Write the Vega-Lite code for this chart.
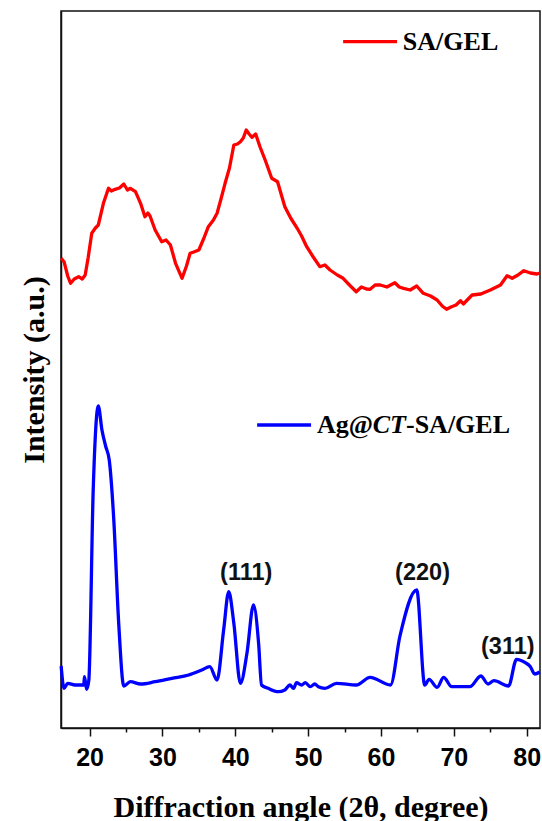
{
  "$schema": "https://vega.github.io/schema/vega-lite/v6.json",
  "width": 479,
  "height": 717,
  "autosize": {"type": "none"},
  "padding": {"left": 61, "top": 11, "right": 2, "bottom": 93},
  "background": "white",
  "config": {
    "view": {"stroke": "#111", "strokeWidth": 1.5},
    "axis": {"grid": false, "domainColor": "#111", "domainWidth": 1.5, "tickColor": "#111", "tickWidth": 1.5},
    "axisY": {
      "title": "Intensity (a.u.)",
      "ticks": false,
      "labels": false,
      "titleFont": "Liberation Serif",
      "titleFontWeight": "bold",
      "titleFontSize": 30,
      "titleColor": "#000",
      "titlePadding": 12
    }
  },
  "datasets": {
    "xrd": [
      {"series": "SA/GEL", "x": 16.1, "y": 469.7},
      {"series": "SA/GEL", "x": 16.5, "y": 466.3},
      {"series": "SA/GEL", "x": 17.0, "y": 452},
      {"series": "SA/GEL", "x": 17.4, "y": 444.7},
      {"series": "SA/GEL", "x": 17.9, "y": 449},
      {"series": "SA/GEL", "x": 18.5, "y": 451.3},
      {"series": "SA/GEL", "x": 19.0, "y": 449},
      {"series": "SA/GEL", "x": 19.4, "y": 453},
      {"series": "SA/GEL", "x": 19.8, "y": 470},
      {"series": "SA/GEL", "x": 20.3, "y": 494.7},
      {"series": "SA/GEL", "x": 20.8, "y": 500},
      {"series": "SA/GEL", "x": 21.2, "y": 503},
      {"series": "SA/GEL", "x": 21.9, "y": 524.7},
      {"series": "SA/GEL", "x": 22.6, "y": 539.7},
      {"series": "SA/GEL", "x": 23.0, "y": 537},
      {"series": "SA/GEL", "x": 23.5, "y": 538.7},
      {"series": "SA/GEL", "x": 24.1, "y": 540},
      {"series": "SA/GEL", "x": 24.7, "y": 544},
      {"series": "SA/GEL", "x": 25.2, "y": 538},
      {"series": "SA/GEL", "x": 25.6, "y": 539.7},
      {"series": "SA/GEL", "x": 26.3, "y": 536.3},
      {"series": "SA/GEL", "x": 27.0, "y": 524.7},
      {"series": "SA/GEL", "x": 27.6, "y": 511.3},
      {"series": "SA/GEL", "x": 28.0, "y": 515},
      {"series": "SA/GEL", "x": 28.3, "y": 512},
      {"series": "SA/GEL", "x": 29.0, "y": 498},
      {"series": "SA/GEL", "x": 29.9, "y": 486.3},
      {"series": "SA/GEL", "x": 30.5, "y": 488},
      {"series": "SA/GEL", "x": 31.1, "y": 483},
      {"series": "SA/GEL", "x": 31.8, "y": 464.7},
      {"series": "SA/GEL", "x": 32.7, "y": 449.7},
      {"series": "SA/GEL", "x": 33.3, "y": 462},
      {"series": "SA/GEL", "x": 33.8, "y": 474.7},
      {"series": "SA/GEL", "x": 34.3, "y": 476},
      {"series": "SA/GEL", "x": 35.0, "y": 478},
      {"series": "SA/GEL", "x": 35.7, "y": 490},
      {"series": "SA/GEL", "x": 36.3, "y": 501.3},
      {"series": "SA/GEL", "x": 37.0, "y": 508},
      {"series": "SA/GEL", "x": 37.5, "y": 514.7},
      {"series": "SA/GEL", "x": 38.0, "y": 528},
      {"series": "SA/GEL", "x": 38.6, "y": 544.7},
      {"series": "SA/GEL", "x": 39.2, "y": 560},
      {"series": "SA/GEL", "x": 39.8, "y": 583},
      {"series": "SA/GEL", "x": 40.3, "y": 584},
      {"series": "SA/GEL", "x": 40.7, "y": 586.3},
      {"series": "SA/GEL", "x": 41.1, "y": 590},
      {"series": "SA/GEL", "x": 41.5, "y": 598},
      {"series": "SA/GEL", "x": 41.9, "y": 594},
      {"series": "SA/GEL", "x": 42.3, "y": 590.7},
      {"series": "SA/GEL", "x": 42.8, "y": 594},
      {"series": "SA/GEL", "x": 43.4, "y": 581},
      {"series": "SA/GEL", "x": 44.1, "y": 568},
      {"series": "SA/GEL", "x": 45.0, "y": 549.7},
      {"series": "SA/GEL", "x": 45.8, "y": 546.3},
      {"series": "SA/GEL", "x": 46.8, "y": 521.3},
      {"series": "SA/GEL", "x": 47.6, "y": 510},
      {"series": "SA/GEL", "x": 48.5, "y": 499.7},
      {"series": "SA/GEL", "x": 49.1, "y": 492},
      {"series": "SA/GEL", "x": 49.8, "y": 481.3},
      {"series": "SA/GEL", "x": 50.7, "y": 471},
      {"series": "SA/GEL", "x": 51.6, "y": 461.3},
      {"series": "SA/GEL", "x": 52.3, "y": 463},
      {"series": "SA/GEL", "x": 53.0, "y": 458},
      {"series": "SA/GEL", "x": 54.0, "y": 453},
      {"series": "SA/GEL", "x": 54.8, "y": 449.7},
      {"series": "SA/GEL", "x": 55.8, "y": 442},
      {"series": "SA/GEL", "x": 56.6, "y": 436.3},
      {"series": "SA/GEL", "x": 57.3, "y": 441},
      {"series": "SA/GEL", "x": 58.0, "y": 439},
      {"series": "SA/GEL", "x": 58.5, "y": 438.7},
      {"series": "SA/GEL", "x": 59.2, "y": 443},
      {"series": "SA/GEL", "x": 59.9, "y": 443},
      {"series": "SA/GEL", "x": 60.8, "y": 441},
      {"series": "SA/GEL", "x": 61.9, "y": 445.3},
      {"series": "SA/GEL", "x": 62.5, "y": 441},
      {"series": "SA/GEL", "x": 63.1, "y": 439.7},
      {"series": "SA/GEL", "x": 64.0, "y": 438},
      {"series": "SA/GEL", "x": 64.9, "y": 442},
      {"series": "SA/GEL", "x": 65.8, "y": 434.7},
      {"series": "SA/GEL", "x": 66.8, "y": 432},
      {"series": "SA/GEL", "x": 67.7, "y": 428},
      {"series": "SA/GEL", "x": 68.4, "y": 422},
      {"series": "SA/GEL", "x": 69.0, "y": 418.7},
      {"series": "SA/GEL", "x": 69.6, "y": 421},
      {"series": "SA/GEL", "x": 70.3, "y": 423},
      {"series": "SA/GEL", "x": 70.9, "y": 427.3},
      {"series": "SA/GEL", "x": 71.3, "y": 424},
      {"series": "SA/GEL", "x": 72.5, "y": 433},
      {"series": "SA/GEL", "x": 73.7, "y": 434},
      {"series": "SA/GEL", "x": 75.0, "y": 438},
      {"series": "SA/GEL", "x": 76.4, "y": 443},
      {"series": "SA/GEL", "x": 77.3, "y": 452.3},
      {"series": "SA/GEL", "x": 78.0, "y": 449.7},
      {"series": "SA/GEL", "x": 78.8, "y": 453},
      {"series": "SA/GEL", "x": 79.6, "y": 457.3},
      {"series": "SA/GEL", "x": 80.5, "y": 455},
      {"series": "SA/GEL", "x": 81.4, "y": 454},
      {"series": "SA/GEL", "x": 81.8, "y": 455},
      {"series": "Ag", "x": 16.1, "y": 62},
      {"series": "Ag", "x": 16.5, "y": 39.7},
      {"series": "Ag", "x": 17.0, "y": 44.7},
      {"series": "Ag", "x": 18.0, "y": 43},
      {"series": "Ag", "x": 19.2, "y": 43},
      {"series": "Ag", "x": 19.3, "y": 51.3},
      {"series": "Ag", "x": 19.6, "y": 38.7},
      {"series": "Ag", "x": 19.9, "y": 48},
      {"series": "Ag", "x": 20.5, "y": 238},
      {"series": "Ag", "x": 21.2, "y": 322},
      {"series": "Ag", "x": 21.7, "y": 298},
      {"series": "Ag", "x": 22.2, "y": 282},
      {"series": "Ag", "x": 22.7, "y": 268},
      {"series": "Ag", "x": 23.3, "y": 211.3},
      {"series": "Ag", "x": 24.0, "y": 104.7},
      {"series": "Ag", "x": 24.7, "y": 42},
      {"series": "Ag", "x": 25.6, "y": 46.3},
      {"series": "Ag", "x": 27.0, "y": 44},
      {"series": "Ag", "x": 29.0, "y": 46.3},
      {"series": "Ag", "x": 31.3, "y": 49.7},
      {"series": "Ag", "x": 33.6, "y": 53},
      {"series": "Ag", "x": 35.4, "y": 58},
      {"series": "Ag", "x": 36.5, "y": 61.3},
      {"series": "Ag", "x": 37.5, "y": 48},
      {"series": "Ag", "x": 38.4, "y": 98},
      {"series": "Ag", "x": 39.1, "y": 136.3},
      {"series": "Ag", "x": 39.8, "y": 104.7},
      {"series": "Ag", "x": 40.7, "y": 44.7},
      {"series": "Ag", "x": 41.6, "y": 74.7},
      {"series": "Ag", "x": 42.5, "y": 123},
      {"series": "Ag", "x": 43.2, "y": 84.7},
      {"series": "Ag", "x": 43.6, "y": 43},
      {"series": "Ag", "x": 44.5, "y": 39.7},
      {"series": "Ag", "x": 45.9, "y": 36.3},
      {"series": "Ag", "x": 46.8, "y": 38},
      {"series": "Ag", "x": 47.5, "y": 43},
      {"series": "Ag", "x": 48.0, "y": 39.7},
      {"series": "Ag", "x": 48.4, "y": 45.3},
      {"series": "Ag", "x": 49.1, "y": 43},
      {"series": "Ag", "x": 49.6, "y": 45.3},
      {"series": "Ag", "x": 50.3, "y": 41.3},
      {"series": "Ag", "x": 50.9, "y": 44},
      {"series": "Ag", "x": 51.4, "y": 41.3},
      {"series": "Ag", "x": 52.3, "y": 39.7},
      {"series": "Ag", "x": 53.9, "y": 44.7},
      {"series": "Ag", "x": 56.6, "y": 43},
      {"series": "Ag", "x": 58.5, "y": 50.7},
      {"series": "Ag", "x": 61.3, "y": 43},
      {"series": "Ag", "x": 62.6, "y": 92},
      {"series": "Ag", "x": 64.9, "y": 138},
      {"series": "Ag", "x": 66.0, "y": 43},
      {"series": "Ag", "x": 66.6, "y": 48.7},
      {"series": "Ag", "x": 67.7, "y": 40.7},
      {"series": "Ag", "x": 68.6, "y": 50.7},
      {"series": "Ag", "x": 69.7, "y": 41.3},
      {"series": "Ag", "x": 72.2, "y": 41.3},
      {"series": "Ag", "x": 73.7, "y": 52},
      {"series": "Ag", "x": 74.7, "y": 44},
      {"series": "Ag", "x": 75.5, "y": 47.3},
      {"series": "Ag", "x": 77.5, "y": 42},
      {"series": "Ag", "x": 78.6, "y": 68.7},
      {"series": "Ag", "x": 79.8, "y": 65.3},
      {"series": "Ag", "x": 80.5, "y": 61.3},
      {"series": "Ag", "x": 81.1, "y": 54},
      {"series": "Ag", "x": 81.8, "y": 56}
    ],
    "legendLines": [
      {"series": "SA/GEL", "x": 54.8, "x2": 62.2, "y": 686.3},
      {"series": "Ag", "x": 43.0, "x2": 50.4, "y": 303}
    ],
    "legendText": [
      {"part": "plain", "x": 63.0, "y": 686.3, "label": "SA/GEL"},
      {"part": "plain", "x": 51.2, "y": 303, "label": "Ag@"},
      {"part": "italic", "x": 58.87, "y": 303, "label": "CT"},
      {"part": "plain", "x": 63.43, "y": 303, "label": "-SA/GEL"}
    ],
    "hkl": [
      {"x": 41.5, "y": 155, "label": "(111)"},
      {"x": 65.7, "y": 155, "label": "(220)"},
      {"x": 77.4, "y": 81, "label": "(311)"}
    ]
  },
  "encoding": {
    "y": {
      "field": "y", "type": "quantitative",
      "title": "Intensity (a.u.)",
      "scale": {"domain": [0, 717], "nice": false, "zero": false}
    }
  },
  "layer": [
    {
      "data": {"name": "xrd"},
      "transform": [{"filter": "datum.series === 'SA/GEL'"}],
      "mark": {"type": "line", "strokeWidth": 3.3, "strokeJoin": "round"},
      "encoding": {
        "x": {
          "field": "x", "type": "quantitative",
          "scale": {"domain": [16.08, 81.82], "nice": false, "zero": false},
          "axis": {
            "orient": "bottom",
            "values": [20, 30, 40, 50, 60, 70, 80],
            "title": "Diffraction angle (2θ, degree)",
            "tickSize": 8,
            "labelPadding": 9,
            "labelFont": "Liberation Sans",
            "labelFontWeight": "bold",
            "labelFontSize": 25,
            "labelColor": "#000",
            "titleFont": "Liberation Serif",
            "titleFontWeight": "bold",
            "titleFontSize": 30,
            "titleColor": "#000",
            "titlePadding": 22
          }
        },
        "color": {
          "field": "series", "type": "nominal",
          "scale": {"domain": ["SA/GEL", "Ag"], "range": ["#ff0000", "#0000ff"]},
          "legend": null
        }
      }
    },
    {
      "data": {"name": "xrd"},
      "transform": [{"filter": "datum.series === 'Ag'"}],
      "mark": {"type": "line", "strokeWidth": 3.3, "strokeJoin": "round", "interpolate": "monotone"},
      "encoding": {
        "x": {"field": "x", "type": "quantitative", "scale": {"domain": [16.08, 81.82], "nice": false, "zero": false}, "axis": null},
        "color": {
          "field": "series", "type": "nominal",
          "scale": {"domain": ["SA/GEL", "Ag"], "range": ["#ff0000", "#0000ff"]},
          "legend": null
        }
      }
    },
    {
      "data": {"name": "legendLines"},
      "mark": {"type": "rule", "strokeWidth": 3.3},
      "encoding": {
        "x": {"field": "x", "type": "quantitative", "scale": {"domain": [16.08, 81.82], "nice": false, "zero": false}, "axis": null},
        "x2": {"field": "x2"},
        "color": {
          "field": "series", "type": "nominal",
          "scale": {"domain": ["SA/GEL", "Ag"], "range": ["#ff0000", "#0000ff"]},
          "legend": null
        }
      }
    },
    {
      "data": {"name": "legendText"},
      "transform": [{"filter": "datum.part === 'plain'"}],
      "mark": {"type": "text", "align": "left", "baseline": "middle", "font": "Liberation Serif", "fontWeight": "bold", "fontSize": 26, "color": "#000"},
      "encoding": {
        "x": {"field": "x", "type": "quantitative", "scale": {"domain": [16.08, 81.82], "nice": false, "zero": false}, "axis": null},
        "text": {"field": "label"}
      }
    },
    {
      "data": {"name": "legendText"},
      "transform": [{"filter": "datum.part === 'italic'"}],
      "mark": {"type": "text", "align": "left", "baseline": "middle", "font": "Liberation Serif", "fontWeight": "bold", "fontStyle": "italic", "fontSize": 26, "color": "#000"},
      "encoding": {
        "x": {"field": "x", "type": "quantitative", "scale": {"domain": [16.08, 81.82], "nice": false, "zero": false}, "axis": null},
        "text": {"field": "label"}
      }
    },
    {
      "data": {"name": "hkl"},
      "mark": {"type": "text", "align": "center", "baseline": "middle", "font": "Liberation Sans", "fontWeight": "bold", "fontSize": 23.5, "color": "#111"},
      "encoding": {
        "x": {
          "field": "x", "type": "quantitative",
          "scale": {"domain": [16.08, 81.82], "nice": false, "zero": false},
          "axis": {
            "orient": "bottom",
            "values": [25, 35, 45, 55, 65, 75],
            "labels": false,
            "domain": false,
            "tickSize": 4,
            "title": null
          }
        },
        "text": {"field": "label"}
      }
    }
  ],
  "resolve": {"axis": {"x": "independent"}}
}
